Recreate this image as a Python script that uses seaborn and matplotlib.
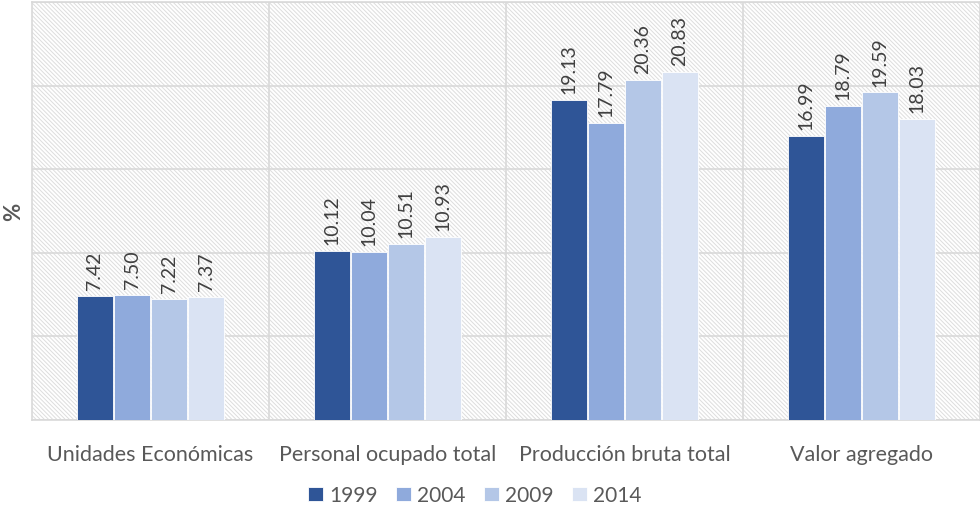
import matplotlib
matplotlib.use("Agg")
import matplotlib.pyplot as plt
from matplotlib.patches import Rectangle
import pandas as pd
import seaborn as sns

categorias = ["Unidades Económicas", "Personal ocupado total",
              "Producción bruta total", "Valor agregado"]
anios = ["1999", "2004", "2009", "2014"]
v1999 = [7.42, 10.12, 19.13, 16.99]
v2004 = [7.50, 10.04, 17.79, 18.79]
v2009 = [7.22, 10.51, 20.36, 19.59]
v2014 = [7.37, 10.93, 20.83, 18.03]
colores = ["#2F5597", "#8FAADC", "#B4C7E7", "#DAE3F3"]

df = pd.DataFrame({
    "categoria": categorias * 4,
    "anio": [a for a in anios for _ in categorias],
    "valor": v1999 + v2004 + v2009 + v2014,
})

sns.set_style("white")
plt.rcParams["font.family"] = ["Lato", "DejaVu Sans"]
plt.rcParams["hatch.color"] = "#dddddd"
plt.rcParams["hatch.linewidth"] = 0.7
gris = "#595959"

fig = plt.figure(figsize=(9.8, 5.06), dpi=100)
ax = fig.add_axes([0.0327, 0.168, 0.9673, 0.826])

# fondo rayado
ax.add_patch(Rectangle((0, 0), 1, 1, transform=ax.transAxes, facecolor="white",
                       edgecolor="#dddddd", hatch="\\" * 8, linewidth=0, zorder=0))

sns.barplot(data=df, x="categoria", y="valor", hue="anio", palette=colores,
            saturation=1, width=0.625, gap=0.05, edgecolor="white",
            linewidth=0.6, ax=ax, zorder=3, legend=True)

for cont in ax.containers:
    ax.bar_label(cont, fmt="%.2f", rotation=90, padding=5, fontsize=14,
                 color="#404040")

ax.set_ylim(0, 25)
ax.set_xlim(-0.5, 3.5)
ax.set_yticks([0, 5, 10, 15, 20, 25])
ax.set_yticklabels([])
ax.tick_params(axis="y", length=0)
ax.tick_params(axis="x", length=0, labelsize=15.5, colors=gris, pad=17)
ax.grid(axis="y", color="#d9d9d9", linewidth=1.2, zorder=1)
ax.set_axisbelow(True)
for x in [0.5, 1.5, 2.5]:
    ax.axvline(x, color="#d9d9d9", linewidth=1.2, zorder=1)
for s in ax.spines.values():
    s.set_color("#d9d9d9")
    s.set_linewidth(1.2)
ax.set_xlabel("")
ax.set_ylabel("")
fig.text(14 / 980, 1 - 212 / 506, "%", rotation=90, ha="center", va="center",
         fontsize=16, fontweight="bold", color=gris)

h, l = ax.get_legend_handles_labels()
ax.legend(h, l, loc="center", bbox_to_anchor=(0.467, -0.18), ncol=4,
          frameon=False, fontsize=15, labelcolor=gris, handlelength=0.7,
          handleheight=0.7, handletextpad=0.3, columnspacing=0.9)

fig.savefig("out.png", dpi=100)
